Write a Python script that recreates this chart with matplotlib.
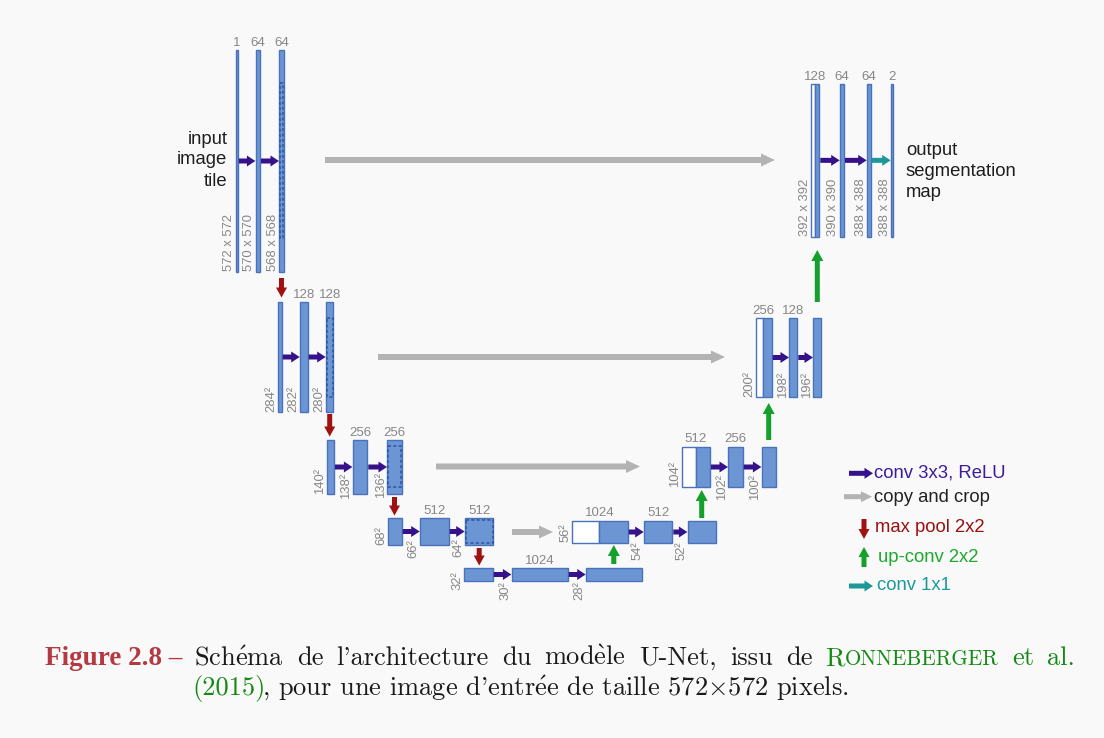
import matplotlib.pyplot as plt
from matplotlib.patches import Rectangle

# Etiquettes des blocs : canaux au-dessus, taille de la carte a gauche
enc1_canaux = ["1", "64", "64"]
enc1_tailles = ["572 x 572", "570 x 570", "568 x 568"]
enc2_canaux = ["", "128", "128"]
enc2_tailles = ["284²", "282²", "280²"]
enc3_canaux = ["", "256", "256"]
enc3_tailles = ["140²", "138²", "136²"]
enc4_canaux = ["", "512", "512"]
enc4_tailles = ["68²", "66²", "64²"]
fond_canaux = ["", "1024", ""]
fond_tailles = ["32²", "30²", "28²"]
dec4_canaux = ["1024", "512", ""]
dec4_tailles = ["56²", "54²", "52²"]
dec3_canaux = ["512", "256", ""]
dec3_tailles = ["104²", "102²", "100²"]
dec2_canaux = ["256", "128", ""]
dec2_tailles = ["200²", "198²", "196²"]
dec1_canaux = ["128", "64", "64", "2"]
dec1_tailles = ["392 x 392", "390 x 390", "388 x 388", "388 x 388"]

legende = ["conv 3x3, ReLU", "copy and crop", "max pool 2x2", "up-conv 2x2", "conv 1x1"]

# Couleurs
BLEU = "#6b96d3"
BORD = "#4a72bb"
VIOLET = "#35128a"
GRIS = "#b3b3b3"
ROUGE = "#a01212"
VERT = "#14a02a"
TURQ = "#1d9898"
TXT_GRIS = "#878787"
SANS = "Liberation Sans"

plt.rcParams["mathtext.fontset"] = "cm"

fig = plt.figure(figsize=(11.04, 7.38), dpi=100, facecolor="#f9f9f9")
ax = fig.add_axes([0, 0, 1, 1])
ax.set_xlim(0, 1104)
ax.set_ylim(738, 0)
ax.axis("off")


def fleche(x0, y0, x1, y1, couleur, larg=5, tete=11, long_tete=8.5):
    ax.arrow(x0, y0, x1 - x0, y1 - y0, width=larg, head_width=tete,
             head_length=long_tete, length_includes_head=True,
             fc=couleur, ec="none", lw=0)


def niveau(xs, ys, canaux, tailles, bas, blanc=None, crop=None, derniere=VIOLET):
    y0, y1 = ys
    ym = (y0 + y1) / 2
    for i, (a, b) in enumerate(xs):
        gauche = a
        if i == 0 and blanc is not None:
            ax.add_patch(Rectangle((blanc, y0), a - blanc, y1 - y0,
                                   fc="white", ec=BORD, lw=1))
            gauche = blanc
        ax.add_patch(Rectangle((a, y0), b - a, y1 - y0, fc=BLEU, ec=BORD, lw=1))
        if canaux[i]:
            ax.text((gauche + b) / 2, y0 - 1.5, canaux[i], ha="center", va="bottom",
                    fontsize=9.5, color=TXT_GRIS, family=SANS)
        ax.text(gauche - 6.5, bas[i], tailles[i], rotation=90, ha="center",
                va="bottom", fontsize=9.4, color=TXT_GRIS, family=SANS)
        if i > 0:
            c = derniere if i == len(xs) - 1 else VIOLET
            fleche(xs[i - 1][1] + 1, ym, a - 0.3, ym, c)
    if crop:
        a, b = xs[-1]
        ax.add_patch(Rectangle((a + 0.8, crop[0]), b - a - 1.6, crop[1] - crop[0],
                               fill=False, ec="#2b55a3", lw=1.1, ls=(0, (2, 1.5))))


# Chemin contractant
niveau([(236, 237.8), (255.7, 260), (279.3, 283.7)], (50, 272),
       enc1_canaux, enc1_tailles, [271, 271, 271], crop=(83, 238))
niveau([(277.7, 281.7), (300, 307.7), (326, 333.3)], (302, 412),
       enc2_canaux, enc2_tailles, [412, 412, 412], crop=(318, 397))
niveau([(326.7, 334), (352.7, 367.3), (387.3, 401.7)], (440, 494),
       enc3_canaux, enc3_tailles, [494, 499, 498], crop=(446, 487))
niveau([(387.7, 401.7), (420, 448.7), (465, 493.3)], (518, 545),
       enc4_canaux, enc4_tailles, [545, 558, 557], crop=(519.8, 543.2))
niveau([(464.3, 492.7), (511.7, 567.7), (586, 641.7)], (568, 581),
       fond_canaux, fond_tailles, [590, 600, 600])

# Chemin expansif
niveau([(599, 627.7), (644, 672.3), (687.7, 715.7)], (521, 543),
       dec4_canaux, dec4_tailles, [542, 560, 560], blanc=571.7)
niveau([(695.7, 710), (728.3, 742.7), (761.7, 775.7)], (447, 487),
       dec3_canaux, dec3_tailles, [487, 500, 500], blanc=681.7)
niveau([(763.3, 771.7), (789.3, 797.3), (813.3, 821.3)], (318, 397),
       dec2_canaux, dec2_tailles, [397, 398, 398], blanc=756)
niveau([(815, 819.3), (840, 844), (867, 870.7), (891, 892.5)], (84, 236.7),
       dec1_canaux, dec1_tailles, [236, 236, 236, 236], blanc=811, derniere=TURQ)

# max pool, up-conv, copy and crop
for x, ya, yb in [(281.5, 278, 297.5), (329.7, 414, 436.5), (394.5, 497, 515.5), (479.2, 548, 565.5)]:
    fleche(x, ya, x, yb, ROUGE, larg=5, tete=11, long_tete=10)
for x, ya, yb in [(613.8, 564, 545), (701.7, 518, 490), (768.7, 440, 403), (817.3, 302, 250)]:
    fleche(x, ya, x, yb, VERT, larg=5, tete=12, long_tete=11)
for xa, xb, y in [(325, 775, 160), (378, 725, 357), (436, 640, 466.5), (512, 553, 532)]:
    fleche(xa, y, xb, y, GRIS, larg=6, tete=13, long_tete=14)

# Textes entree / sortie
for y, mot in zip([143.5, 164.5, 186], ["input", "image", "tile"]):
    ax.text(227.5, y, mot, ha="right", va="baseline", fontsize=13.3, color="#1e1e1e", family=SANS)
for y, mot in zip([155, 176, 197], ["output", "segmentation", "map"]):
    ax.text(906, y, mot, ha="left", va="baseline", fontsize=13.3, color="#1e1e1e", family=SANS)

# Legende
fleche(849, 473.3, 873, 473.3, VIOLET)
fleche(844, 496.7, 872, 496.7, GRIS, larg=5, tete=11, long_tete=11)
fleche(864, 519, 864, 539, ROUGE, larg=5, tete=11, long_tete=10)
fleche(864, 567, 864, 547, VERT, larg=5, tete=11, long_tete=10)
fleche(849, 586, 873, 586, TURQ)
pos_leg = [(874, 473.5), (874, 497), (875, 528), (878, 557), (877, 585.5)]
coul_leg = ["#3b1d9b", "#222222", "#9b1010", "#1ea82e", "#1b9a9a"]
for (x, y), t, c in zip(pos_leg, legende, coul_leg):
    ax.text(x, y, t, ha="left", va="center", fontsize=13.3, color=c, family=SANS)

# Legende de la figure (premiere ligne justifiee de 194 a 1075 px)
NOIR = "#1a1a1a"
VERT_CIT = "#138a13"
ax.text(45, 665, "Figure 2.8 –", family="Liberation Serif", weight="bold",
        fontsize=19.5, color="#b33a40", va="baseline", ha="left")

# chaque mot = liste de morceaux (texte, couleur, taille)
mots1 = [
    [(r"Sch$\acute{\rm e}$ma", NOIR, 19)], [("de", NOIR, 19)],
    [("l'architecture", NOIR, 19)], [("du", NOIR, 19)],
    [(r"mod$\grave{\rm e}$le", NOIR, 19)], [("U-Net,", NOIR, 19)],
    [("issu", NOIR, 19)], [("de", NOIR, 19)],
    [("R", VERT_CIT, 19), ("ONNEBERGER", VERT_CIT, 15.2)],
    [("et", VERT_CIT, 19)], [("al.", VERT_CIT, 19)],
]
rend = fig.canvas.get_renderer()
objets, largeurs = [], []
for mot in mots1:
    morceaux, w = [], 0
    for t, c, fs in mot:
        o = ax.text(0, 665, t, color=c, family="cmr10", fontsize=fs,
                    va="baseline", ha="left")
        ww = o.get_window_extent(rend).width
        morceaux.append((o, w))
        w += ww
    objets.append(morceaux)
    largeurs.append(w)
x_debut, x_fin = 194, 1075
ecart = (x_fin - x_debut - sum(largeurs)) / (len(mots1) - 1)
x = x_debut
for morceaux, w in zip(objets, largeurs):
    for o, dx in morceaux:
        o.set_x(x + dx)
    x += w + ecart

ax.text(192.7, 695, "(2015)", color=VERT_CIT, family="cmr10", fontsize=19,
        va="baseline", ha="left")
ax.text(262, 695, r", pour une image d'entr$\acute{\rm e}$e de taille 572$\times$572 pixels.",
        color=NOIR, family="cmr10", fontsize=19, va="baseline", ha="left")

fig.savefig("out.png", dpi=100, facecolor=fig.get_facecolor())
